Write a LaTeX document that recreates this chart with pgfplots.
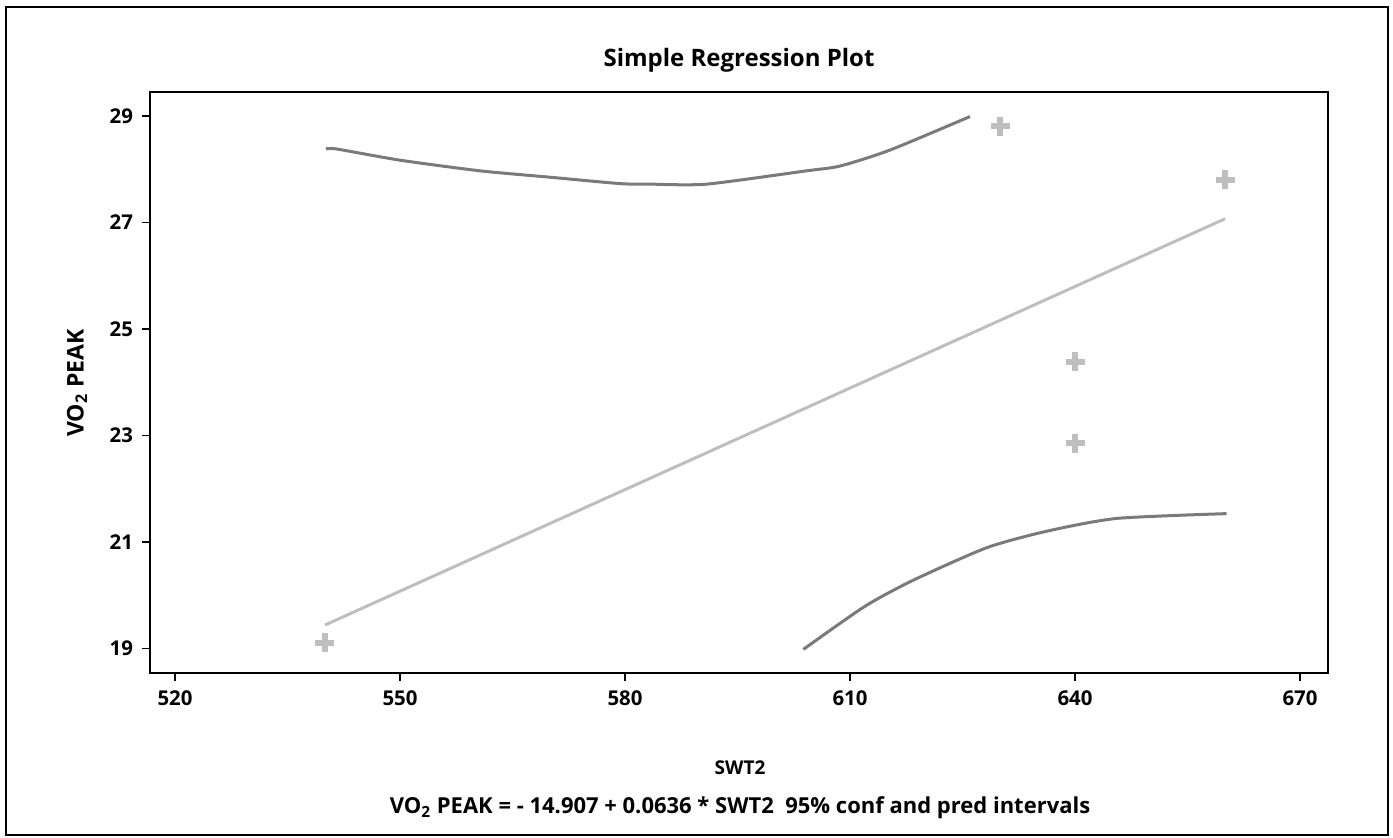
\documentclass[border=0pt]{standalone}
\usepackage{pgfplots}
\pgfplotsset{compat=1.18}
\usepackage{fontspec}
\setmainfont{Open Sans}
\definecolor{darkcurve}{RGB}{122,122,122}
\definecolor{lightgr}{RGB}{190,190,190}
\begin{document}
\begin{tikzpicture}[x=0.5pt,y=0.5pt]
\useasboundingbox (0,0) rectangle (1393,837);
\draw[line width=1pt] (5.5,2) rectangle (1388,830);
\begin{axis}[
  at={(75pt,82pt)}, anchor=south west,
  scale only axis, width=589pt, height=290.5pt,
  xmin=516.67, xmax=673.73, ymin=18.536, ymax=29.451,
  xtick={520,550,580,610,640,670},
  ytick={19,21,23,25,27,29},
  tick align=outside, major tick length=4pt,
  xtick pos=bottom, ytick pos=left,
  axis line style={line width=1pt},
  every tick/.style={black, line width=0.8pt},
  /pgf/number format/assume math mode=true,
  ticklabel style={font=\bfseries\fontsize{10.2}{12}\selectfont},
  xticklabel style={yshift=-1.5pt},
  yticklabel style={xshift=-1pt},
  clip=false,
]
\addplot[lightgr, line width=1.5pt] coordinates {(540,19.437) (660,27.069)};
\addplot[darkcurve, line width=1.5pt, smooth, tension=0.4] coordinates {
(540.13,28.38) (541.56,28.38) (550,28.17) (560.67,27.97) (570,27.85) (579.33,27.73) (583.33,27.72) (590.89,27.72) (604.2,27.97) (608.67,28.06) (615.33,28.36) (626,28.99)};
\addplot[darkcurve, line width=1.5pt, smooth, tension=0.4] coordinates {
(603.78,18.98) (612,19.79) (618.44,20.28) (628.23,20.89) (636.23,21.20) (645.56,21.44) (660.2,21.53)};
\addplot[only marks, mark=+, mark size=4.75pt, lightgr, mark options={line width=3pt}] coordinates {
(540,19.1) (630,28.81) (660,27.80) (640,24.38) (640,22.85)};
\end{axis}
\node[font=\bfseries\fontsize{12}{14}\selectfont] at (739,777) {Simple Regression Plot};
\node[font=\bfseries\fontsize{9.5}{11}\selectfont] at (740,69) {SWT2};
\node[font=\bfseries\fontsize{11}{13}\selectfont] at (740,29) {VO\textsubscript{2} PEAK = - 14.907 + 0.0636 * SWT2 \ 95\% conf and pred intervals};
\node[font=\bfseries\fontsize{11.5}{13}\selectfont, rotate=90] at (77,454) {VO\textsubscript{2} PEAK};
\end{tikzpicture}
\end{document}
